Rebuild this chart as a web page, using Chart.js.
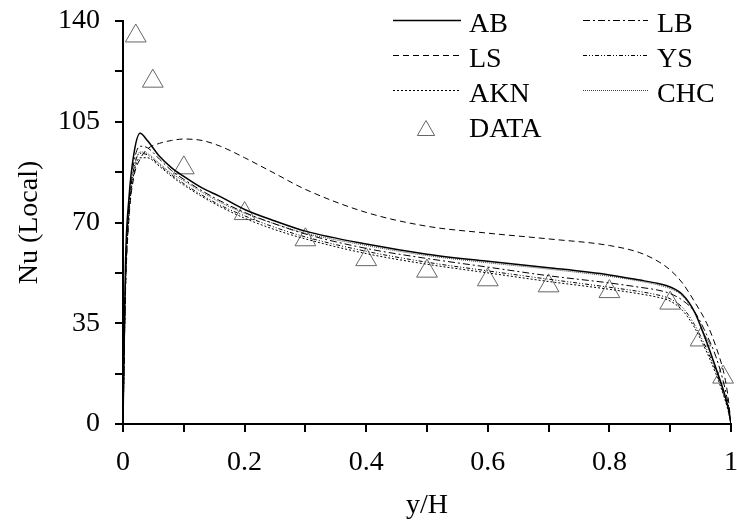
<!DOCTYPE html>
<html>
<head>
<meta charset="utf-8">
<script src="https://cdn.jsdelivr.net/npm/chart.js@4/dist/chart.umd.min.js"></script>
<style>
  html, body { margin: 0; padding: 0; background: #fff; }
  #wrap { width: 737px; height: 529px; }
</style>
</head>
<body>
<div id="wrap"><canvas id="nuChart" width="737" height="529"></canvas></div>
<script>
// y/H positions shared by the model curves
const curveX = [0, 0.004, 0.01, 0.018, 0.028, 0.04, 0.06, 0.08, 0.1, 0.13, 0.16, 0.2, 0.25, 0.3, 0.4, 0.5, 0.6, 0.7, 0.8, 0.85, 0.88, 0.9, 0.92, 0.94, 0.96, 0.975, 0.99, 0.996, 1];

const nuAB  = [0, 55, 79, 94, 101, 98.5, 93, 89, 86, 82, 79, 74.5, 70.5, 67, 62.5, 59, 56.5, 54.3, 51.8, 50, 48.8, 47.6, 45, 39, 28.5, 19.5, 10, 5, 0];
const nuLB  = [0, 50, 77, 91, 96.5, 96, 92, 88, 85, 81, 77.5, 73.5, 69.5, 66, 61, 57.5, 54.5, 51.5, 49, 47.5, 46.5, 45.3, 43, 39, 31, 23.5, 12.5, 6, 0];
const nuLS  = [0, 45, 72, 86, 92, 95.5, 97.5, 98.5, 99, 98.5, 96.5, 92.5, 87, 81.5, 73.5, 68.7, 66.3, 64.3, 62, 59.5, 56.5, 53.5, 49, 42.5, 35, 27, 16, 8, 0];
const nuYS  = [0, 48, 75, 89, 94, 93.5, 90, 86.5, 83.5, 79.5, 76, 72.3, 68.3, 65, 60, 56.2, 53.2, 50.3, 47.5, 46, 44.8, 43.5, 40.5, 34.5, 26, 18.5, 9, 4.5, 0];
const nuAKN = [0, 46, 73, 87, 92.5, 92.5, 89.5, 86, 83, 79, 75.5, 71.5, 67.5, 64.3, 59.2, 55.5, 52.5, 49.5, 46.8, 45.2, 44, 42.7, 39.5, 33.5, 25, 17.5, 8.5, 4, 0];
const nuCHC = [0, 47, 74, 88, 94.5, 94, 90.5, 87, 84.5, 80.5, 77, 73.2, 69.5, 66.3, 62, 58.5, 56, 53.8, 51.3, 49.6, 48.3, 47, 44.5, 38.5, 28, 19, 9.5, 4.8, 0];

// measured points
const dataX = [0.021, 0.049, 0.1, 0.2, 0.3, 0.4, 0.5, 0.6, 0.7, 0.8, 0.9, 0.95, 0.987];
const dataY = [134.8, 119.1, 89, 73.1, 64, 57.1, 53.1, 50.1, 48, 46, 42, 29.2, 16.3];

const xTicks = [0, 0.2, 0.4, 0.6, 0.8, 1];
const yTicks = [0, 35, 70, 105, 140];

const serif = "'Liberation Serif', 'Times New Roman', serif";

function pts(xs, ys) {
  return xs.map((x, i) => ({ x: x, y: ys[i] }));
}

function curve(label, ys, dash, width, color) {
  return {
    label: label,
    data: pts(curveX, ys),
    borderColor: color || '#000',
    borderWidth: width || 1,
    borderDash: dash,
    pointRadius: 0,
    fill: false,
    cubicInterpolationMode: 'monotone'
  };
}

const datasets = [
  curve('AB', nuAB, [], 1.5),
  curve('LB', nuLB, [7, 3, 2, 3]),
  curve('LS', nuLS, [6, 4]),
  curve('YS', nuYS, [4, 2, 1, 2, 1, 2]),
  curve('AKN', nuAKN, [2, 2]),
  curve('CHC', nuCHC, [1, 1], 1, '#444'),
  {
    label: 'DATA',
    data: pts(dataX, dataY),
    showLine: false,
    pointStyle: 'triangle',
    pointRadius: 12,
    pointBorderColor: '#666',
    pointBorderWidth: 1,
    pointBackgroundColor: 'rgba(0,0,0,0)',
    clip: false
  }
];

// legend drawn inside the plot, two columns like the original
const legendPlugin = {
  id: 'boxLegend',
  afterDraw(chart) {
    const ctx = chart.ctx;
    const cols = [{ x0: 393, x1: 461, tx: 469 }, { x0: 583, x1: 648, tx: 657 }];
    const rowBase = [31.5, 66.5, 101.5, 136.5];
    ctx.save();
    ctx.font = '28px ' + serif;
    ctx.fillStyle = '#000';
    ctx.textBaseline = 'alphabetic';
    chart.data.datasets.forEach((ds, i) => {
      const col = cols[i % 2];
      const base = rowBase[Math.floor(i / 2)];
      const ly = base - 11;
      if (ds.showLine === false) {
        const cx = (col.x0 + col.x1) / 2 - 1, cy = ly + 5, r = 10;
        ctx.beginPath();
        ctx.moveTo(cx, cy - r);
        ctx.lineTo(cx + r * 0.866, cy + r / 2);
        ctx.lineTo(cx - r * 0.866, cy + r / 2);
        ctx.closePath();
        ctx.strokeStyle = '#666';
        ctx.lineWidth = 1;
        ctx.setLineDash([]);
        ctx.stroke();
      } else {
        ctx.beginPath();
        ctx.moveTo(col.x0, ly);
        ctx.lineTo(col.x1, ly);
        ctx.strokeStyle = ds.borderColor;
        ctx.lineWidth = ds.borderWidth;
        ctx.setLineDash(ds.borderDash || []);
        ctx.stroke();
      }
      ctx.setLineDash([]);
      ctx.fillText(ds.label, col.tx, base);
    });
    ctx.restore();
  }
};

new Chart(document.getElementById('nuChart'), {
  type: 'line',
  data: { datasets: datasets },
  plugins: [legendPlugin],
  options: {
    responsive: false,
    animation: false,
    devicePixelRatio: 1,
    layout: { autoPadding: false, padding: { top: 21, right: 6, bottom: 0, left: 0 } },
    plugins: {
      legend: { display: false },
      tooltip: { enabled: false }
    },
    scales: {
      x: {
        type: 'linear',
        min: 0,
        max: 1,
        afterFit: (scale) => {
          scale.height = 105;
          scale.paddingLeft = 0;
          scale.paddingRight = 0;
        },
        ticks: {
          stepSize: 0.1,
          autoSkip: false,
          maxRotation: 0,
          padding: 14,
          color: '#000',
          font: { family: serif, size: 28 },
          callback: function (value) {
            const v = Math.round(value * 10) / 10;
            return xTicks.includes(v) ? String(v) : '';
          }
        },
        grid: { drawOnChartArea: false, tickLength: 8, color: '#000', lineWidth: 2 },
        border: { color: '#000', width: 2 },
        title: {
          display: true,
          text: 'y/H',
          color: '#000',
          font: { family: serif, size: 28 },
          padding: { top: 0, bottom: 7 }
        }
      },
      y: {
        min: 0,
        max: 140,
        afterFit: (scale) => {
          scale.width = 123;
          scale.paddingTop = 0;
          scale.paddingBottom = 0;
        },
        ticks: {
          stepSize: 17.5,
          autoSkip: false,
          padding: 15,
          color: '#000',
          font: { family: serif, size: 28 },
          callback: function (value) {
            return yTicks.includes(value) ? String(value) : '';
          }
        },
        grid: { drawOnChartArea: false, tickLength: 8, color: '#000', lineWidth: 2 },
        border: { color: '#000', width: 2 },
        title: {
          display: true,
          text: 'Nu (Local)',
          color: '#000',
          font: { family: serif, size: 28 },
          padding: { top: 13, bottom: 0 }
        }
      }
    }
  }
});
</script>
</body>
</html>
